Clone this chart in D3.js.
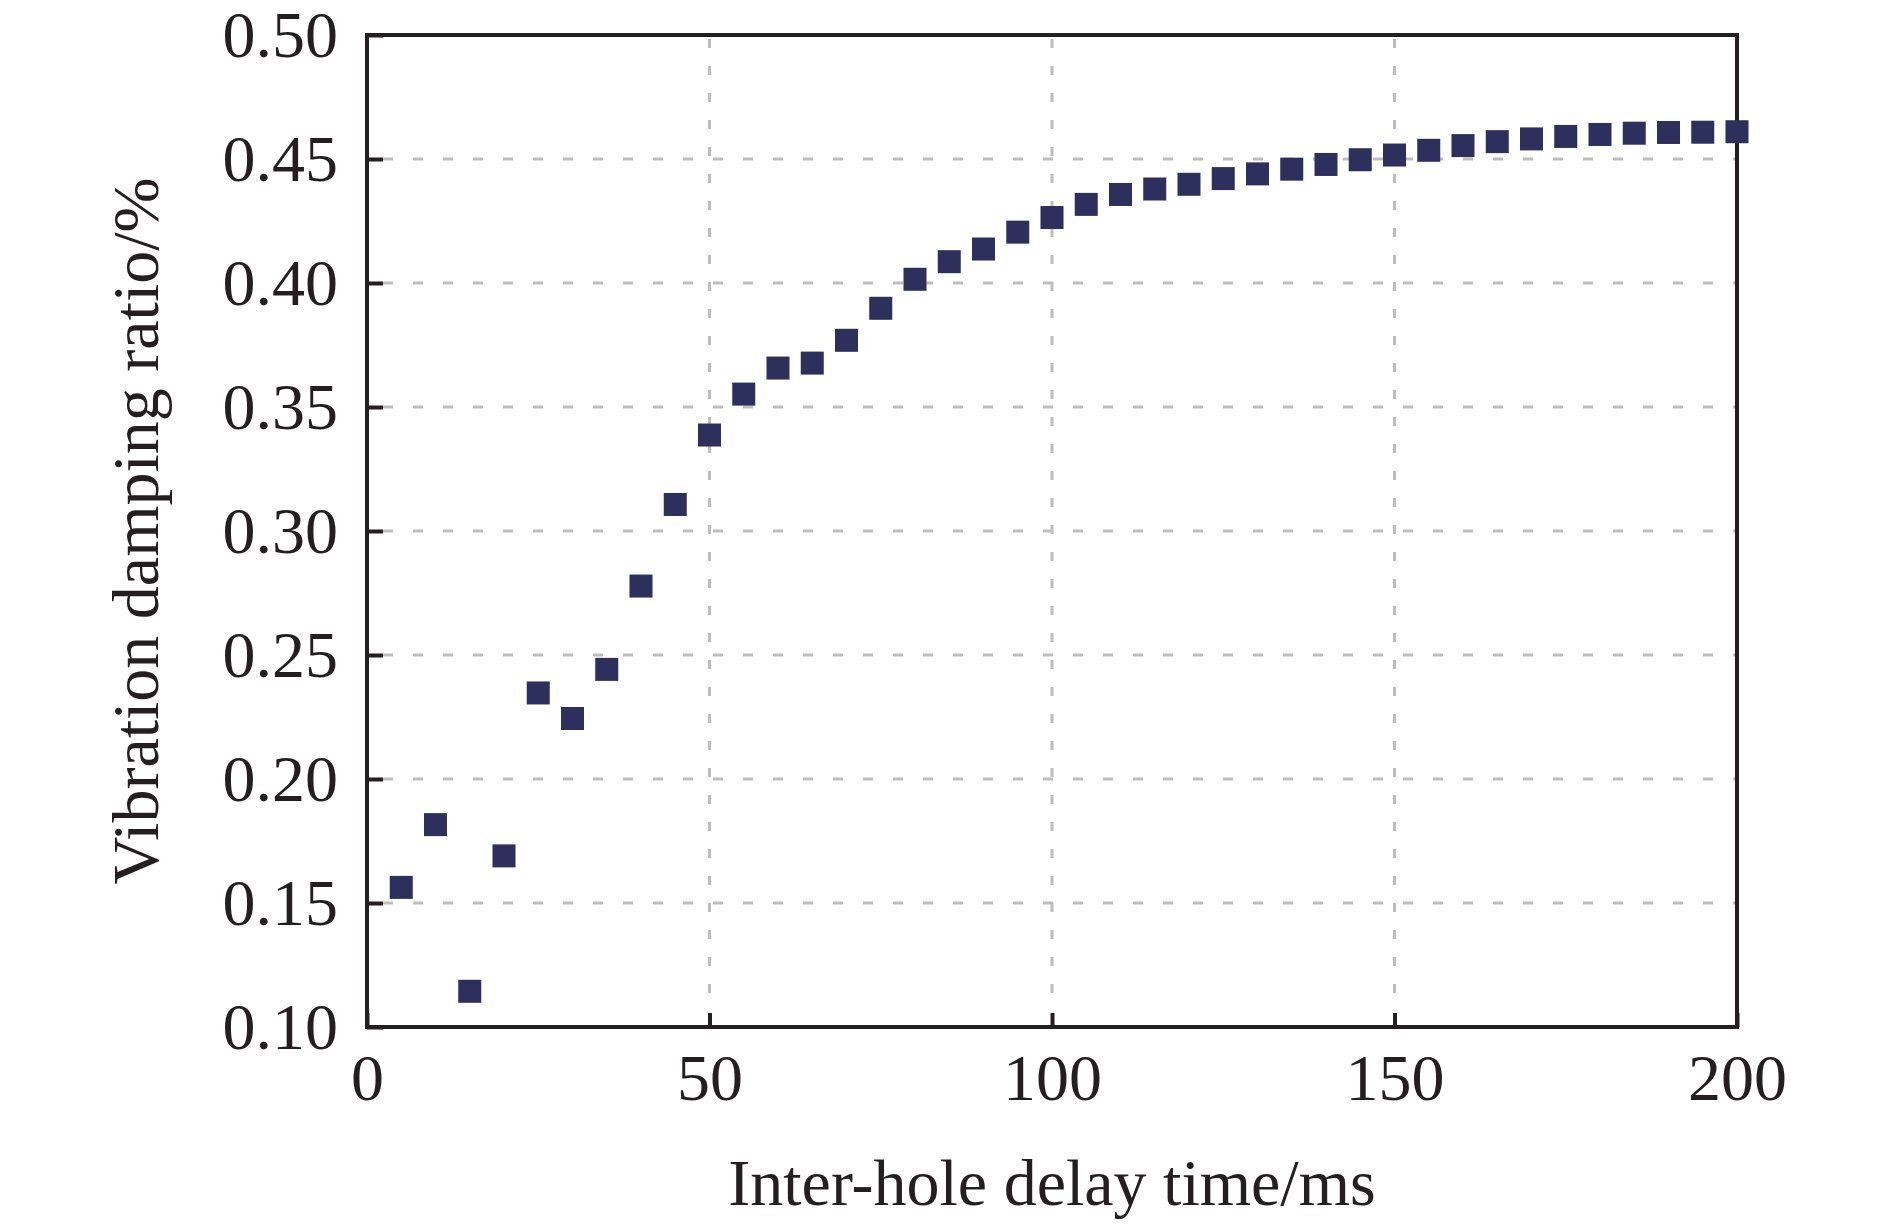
<!DOCTYPE html>
<html>
<head>
<meta charset="utf-8">
<script src="https://cdn.jsdelivr.net/npm/d3@7"></script>
<style>
  body { margin: 0; background: #fff; }
  svg { display: block; }
  .axis text { font-family: "Liberation Serif", "Times New Roman", serif; font-size: 66px; fill: #231f20; }
  .title { font-family: "Liberation Serif", "Times New Roman", serif; font-size: 66px; fill: #231f20; }
</style>
</head>
<body>
<div id="chart"></div>
<script>
// inter-hole delay (ms) and vibration damping ratio
var delays = [5, 10, 15, 20, 25, 30, 35, 40, 45, 50,
              55, 60, 65, 70, 75, 80, 85, 90, 95, 100,
              105, 110, 115, 120, 125, 130, 135, 140, 145, 150,
              155, 160, 165, 170, 175, 180, 185, 190, 195, 200];
var damping = [0.1563, 0.1816, 0.1144, 0.1690, 0.2347, 0.2244, 0.2442, 0.2778, 0.3107, 0.3387,
               0.3552, 0.3657, 0.3677, 0.3769, 0.3898, 0.4015, 0.4086, 0.4137, 0.4205, 0.4264,
               0.4317, 0.4357, 0.4379, 0.4398, 0.4421, 0.4440, 0.4459, 0.4478, 0.4497, 0.4516,
               0.4535, 0.4554, 0.4570, 0.4581, 0.4591, 0.4599, 0.4604, 0.4607, 0.4608, 0.4610];
var xTicks = [0, 50, 100, 150, 200];
var yTicks = [0.10, 0.15, 0.20, 0.25, 0.30, 0.35, 0.40, 0.45, 0.50];
var xTitle = "Inter-hole delay time/ms";
var yTitle = "Vibration damping ratio/%";

var w = 1890, h = 1226;
// plot box (note: "top" is a reserved window global, so use other names)
var pLeft = 367, pRight = 1737, pTop = 35, pBottom = 1027;

var svg = d3.select('#chart').append('svg')
            .attr('width', w)
            .attr('height', h);

var xscale = d3.scaleLinear().domain([0, 200]).range([pLeft, pRight]);
var yscale = d3.scaleLinear().domain([0.10, 0.50]).range([pBottom, pTop]);

// dashed grid
svg.append('g').selectAll('line')
    .data(yTicks.slice(1, -1))
    .enter().append('line')
        .attr('x1', pLeft + 16).attr('x2', pRight)
        .attr('y1', d => yscale(d)).attr('y2', d => yscale(d))
        .attr('stroke', '#bdbdbd')
        .attr('stroke-width', 3)
        .attr('stroke-dasharray', '10,20');
svg.append('g').selectAll('line')
    .data(xTicks.slice(1, -1))
    .enter().append('line')
        .attr('x1', d => xscale(d)).attr('x2', d => xscale(d))
        .attr('y1', pTop + 4).attr('y2', pBottom - 16)
        .attr('stroke', '#bdbdbd')
        .attr('stroke-width', 3)
        .attr('stroke-dasharray', '9,18');

var xaxis = d3.axisBottom(xscale).tickValues(xTicks).tickSize(-14).tickPadding(26);
var yaxis = d3.axisLeft(yscale).tickValues(yTicks).tickFormat(d3.format('.2f')).tickSize(-16).tickPadding(29);

svg.append('g')
        .attr('class', 'axis x')
        .attr('transform', 'translate(0,' + pBottom + ')')
    .call(xaxis);
svg.append('g')
        .attr('class', 'axis y')
        .attr('transform', 'translate(' + pLeft + ',0)')
    .call(yaxis);
svg.selectAll('.axis .domain').remove();
svg.selectAll('.axis .tick line').attr('stroke', '#231f20').attr('stroke-width', 4);

// frame
svg.append('rect')
    .attr('x', pLeft).attr('y', pTop)
    .attr('width', pRight - pLeft).attr('height', pBottom - pTop)
    .attr('fill', 'none')
    .attr('stroke', '#231f20')
    .attr('stroke-width', 4);

// square markers
var size = 23;
svg.append('g').selectAll('rect')
    .data(delays.map((d, i) => [d, damping[i]]))
    .enter().append('rect')
        .attr('x', d => xscale(d[0]) - size / 2)
        .attr('y', d => yscale(d[1]) - size / 2)
        .attr('width', size)
        .attr('height', size)
        .attr('fill', '#2d2f5c');

svg.append('text')
    .attr('class', 'title')
    .attr('x', (pLeft + pRight) / 2)
    .attr('y', 1205)
    .attr('text-anchor', 'middle')
    .text(xTitle);
svg.append('text')
    .attr('class', 'title')
    .attr('transform', 'translate(158,' + (pTop + pBottom) / 2 + ') rotate(-90)')
    .attr('text-anchor', 'middle')
    .text(yTitle);
</script>
</body>
</html>
